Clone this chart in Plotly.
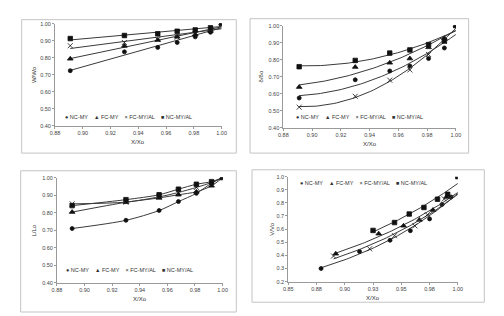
import numpy as np
import plotly.graph_objects as go

W, H = 504, 316
SERIES = ["NC-MY", "FC-MY", "FC-MY/AL", "NC-MY/AL"]
SYMBOLS = ["circle", "triangle-up", "x-thin", "square"]
SIZES = [4, 5, 5, 4.5]

# ---- Panel 1: W/Wo ----
x1 = [0.891, 0.930, 0.954, 0.968, 0.981, 0.992, 1.000]
w_nc_my = [0.723, 0.834, 0.860, 0.889, 0.922, 0.949, 1.000]
w_fc_my = [0.793, 0.869, 0.903, 0.922, 0.936, 0.957, 1.000]
w_fc_myal = [0.870, 0.889, 0.906, 0.920, 0.940, 0.960, 1.000]
w_nc_myal = [0.912, 0.930, 0.940, 0.955, 0.963, 0.975, 1.000]

# ---- Panel 2: delta/delta_o ----
d_nc_my = [0.574, 0.681, 0.733, 0.762, 0.806, 0.868, 1.000]
d_fc_my = [0.638, 0.756, 0.781, 0.806, 0.872, 0.926, 1.000]
d_fc_myal = [0.520, 0.584, 0.679, 0.739, 0.830, 0.907, 1.000]
d_nc_myal = [0.758, 0.795, 0.838, 0.857, 0.888, 0.909, 1.000]

# ---- Panel 3: L/Lo ----
l_nc_my = [0.709, 0.756, 0.812, 0.863, 0.910, 0.968, 1.000]
l_fc_my = [0.803, 0.859, 0.884, 0.902, 0.919, 0.953, 1.000]
l_fc_myal = [0.850, 0.860, 0.890, 0.915, 0.944, 0.972, 1.000]
l_nc_myal = [0.840, 0.874, 0.902, 0.934, 0.962, 0.977, 1.000]

# ---- Panel 4: V/Vo ----
v_x_nc_my = [0.879, 0.913, 0.940, 0.958, 0.975, 0.986, 0.994]
v_nc_my = [0.300, 0.430, 0.515, 0.588, 0.678, 0.788, 0.845]
v_x_fc_my = [0.892, 0.930, 0.952, 0.966, 0.978, 0.990]
v_fc_my = [0.412, 0.565, 0.625, 0.670, 0.745, 0.845]
v_x_fc_myal = [0.890, 0.922, 0.944, 0.962, 0.973, 0.988]
v_fc_myal = [0.395, 0.450, 0.550, 0.625, 0.710, 0.830]
v_x_nc_myal = [0.925, 0.944, 0.957, 0.970, 0.982, 0.991, 1.000]
v_nc_myal = [0.590, 0.650, 0.715, 0.765, 0.828, 0.865, 1.000]

# tick labels
ticks_a_vals = [0.40, 0.50, 0.60, 0.70, 0.80, 0.90, 1.00]
ticks_a_text = ["0.40", "0.50", "0.60", "0.70", "0.80", "0.90", "1.00"]
ticks_x_vals = [0.88, 0.90, 0.92, 0.94, 0.96, 0.98, 1.00]
ticks_x_text = ["0.88", "0.90", "0.92", "0.94", "0.96", "0.98", "1.00"]
ticks_v_vals = [0.2, 0.3, 0.4, 0.5, 0.6, 0.7, 0.8, 0.9, 1.0]
ticks_v_text = ["0.2", "0.3", "0.4", "0.5", "0.6", "0.7", "0.8", "0.9", "1.0"]
ticks_vx_vals = [0.85, 0.875, 0.90, 0.925, 0.95, 0.975, 1.00]
ticks_vx_text = ["0.85", "0.88", "0.90", "0.93", "0.95", "0.98", "1.00"]

# panel geometry in pixels: plot area (left, right, top, bottom), border (l, t, r, b)
panels = [
    dict(plot=(51, 221, 21, 125), border=(17, 17, 236, 153), ylab="W/Wo",
         xr=[0.88, 1.00], yr=[0.40, 1.00], xt=(ticks_x_vals, ticks_x_text),
         yt=(ticks_a_vals, ticks_a_text), leg_y=116, ylab_x=29,
         data=[(x1, w_nc_my), (x1, w_fc_my), (x1, w_fc_myal), (x1, w_nc_myal)], fit="lin"),
    dict(plot=(284, 460, 23, 127), border=(250, 16, 473, 153), ylab="δ/δo",
         xr=[0.88, 1.00], yr=[0.40, 1.00], xt=(ticks_x_vals, ticks_x_text),
         yt=(ticks_a_vals, ticks_a_text), leg_y=116, ylab_x=261,
         data=[(x1, d_nc_my), (x1, d_fc_my), (x1, d_fc_myal), (x1, d_nc_myal)], fit="quad"),
    dict(plot=(53, 222, 178, 285), border=(16, 171, 236, 315), ylab="L/Lo",
         xr=[0.88, 1.00], yr=[0.40, 1.00], xt=(ticks_x_vals, ticks_x_text),
         yt=(ticks_a_vals, ticks_a_text), leg_y=272, ylab_x=30,
         data=[(x1, l_nc_my), (x1, l_fc_my), (x1, l_fc_myal), (x1, l_nc_myal)], fit="spline"),
    dict(plot=(289, 462, 177, 284), border=(252, 170, 489, 305), ylab="V/Vo",
         xr=[0.85, 1.00], yr=[0.2, 1.0], xt=(ticks_vx_vals, ticks_vx_text),
         yt=(ticks_v_vals, ticks_v_text), leg_y=183, ylab_x=273,
         data=[(v_x_nc_my, v_nc_my), (v_x_fc_my, v_fc_my), (v_x_fc_myal, v_fc_myal),
               (v_x_nc_myal, v_nc_myal)], fit="exp"),
]

fig = go.Figure()
TXT = "#444444"
AX = "#9a9a9a"
FONT = "Liberation Sans, Arial, sans-serif"
shapes, annotations = [], []

for i, p in enumerate(panels):
    n = "" if i == 0 else str(i + 1)
    xa, ya = "x" + n, "y" + n
    L, R, T, B = p["plot"]
    fig.update_layout(**{
        "xaxis" + n: dict(domain=[L / W, R / W], range=p["xr"], anchor=ya,
                          tickvals=p["xt"][0], ticktext=p["xt"][1], showgrid=False,
                          zeroline=False, showline=True, linecolor=AX, linewidth=1,
                          ticks="outside", ticklen=2, tickcolor=AX,
                          tickfont=dict(size=5.5, color=TXT, family=FONT)),
        "yaxis" + n: dict(domain=[1 - B / H, 1 - T / H], range=p["yr"], anchor=xa,
                          tickvals=p["yt"][0], ticktext=p["yt"][1], showgrid=False,
                          zeroline=False, showline=True, linecolor=AX, linewidth=1,
                          ticks="outside", ticklen=2, tickcolor=AX,
                          tickfont=dict(size=5.5, color=TXT, family=FONT)),
    })
    bl, bt, br, bb = p["border"]
    shapes.append(dict(type="rect", xref="paper", yref="paper",
                       x0=bl / W, x1=br / W, y0=1 - bb / H, y1=1 - bt / H,
                       line=dict(color="#c4c4c4", width=1), fillcolor="rgba(0,0,0,0)"))
    for k, (xs, ys) in enumerate(p["data"]):
        xs = np.array(xs)
        ys = np.array(ys)
        if p["fit"] == "spline":
            fig.add_trace(go.Scatter(x=xs, y=ys, mode="lines", line=dict(color="#3a3a3a", width=1,
                          shape="spline", smoothing=0.8), xaxis=xa, yaxis=ya, showlegend=False,
                          hoverinfo="skip"))
        else:
            xf = np.linspace(xs.min(), 1.0 if p["fit"] == "exp" else xs.max(), 60)
            if p["fit"] == "lin":
                yf = np.polyval(np.polyfit(xs, ys, 1), xf)
            elif p["fit"] == "quad":
                yf = np.polyval(np.polyfit(xs, ys, 2), xf)
            else:
                c = np.polyfit(xs, np.log(ys), 1)
                yf = np.exp(np.polyval(c, xf))
            fig.add_trace(go.Scatter(x=xf, y=yf, mode="lines", line=dict(color="#3a3a3a", width=1),
                                     xaxis=xa, yaxis=ya, showlegend=False, hoverinfo="skip"))
        fig.add_trace(go.Scatter(x=xs, y=ys, mode="markers", name=SERIES[k],
                                 marker=dict(symbol=SYMBOLS[k], size=SIZES[k], color="#111111",
                                             line=dict(color="#111111", width=0.8)),
                                 xaxis=xa, yaxis=ya, showlegend=False))
    # legend text
    leg = "●&nbsp;NC-MY&nbsp;&nbsp;&nbsp;&nbsp;▲&nbsp;FC-MY&nbsp;&nbsp;&nbsp;&nbsp;×&nbsp;FC-MY/AL&nbsp;&nbsp;&nbsp;&nbsp;■&nbsp;NC-MY/AL"
    annotations.append(dict(xref="paper", yref="paper", x=(L + R) / 2 / W - 0.02, y=1 - p["leg_y"] / H,
                            text=leg, showarrow=False, xanchor="center", yanchor="middle",
                            font=dict(size=5.5, color="#333333", family=FONT)))
    # axis titles
    annotations.append(dict(xref="paper", yref="paper", x=(L + R) / 2 / W, y=1 - (B + 17) / H,
                            text="X/Xo", showarrow=False, xanchor="center", yanchor="middle",
                            font=dict(size=6, color="#333333", family=FONT)))
    annotations.append(dict(xref="paper", yref="paper", x=p["ylab_x"] / W, y=1 - (T + B) / 2 / H,
                            text=p["ylab"], showarrow=False, textangle=-90, xanchor="center",
                            yanchor="middle", font=dict(size=6, color="#333333", family=FONT)))

fig.update_layout(width=W, height=H, margin=dict(l=0, r=0, t=0, b=0),
                  paper_bgcolor="white", plot_bgcolor="white",
                  shapes=shapes, annotations=annotations, showlegend=False)
fig.write_html("out.html", config={"displayModeBar": False},
               post_script="document.body.style.margin='0';document.body.style.overflow='hidden';")
